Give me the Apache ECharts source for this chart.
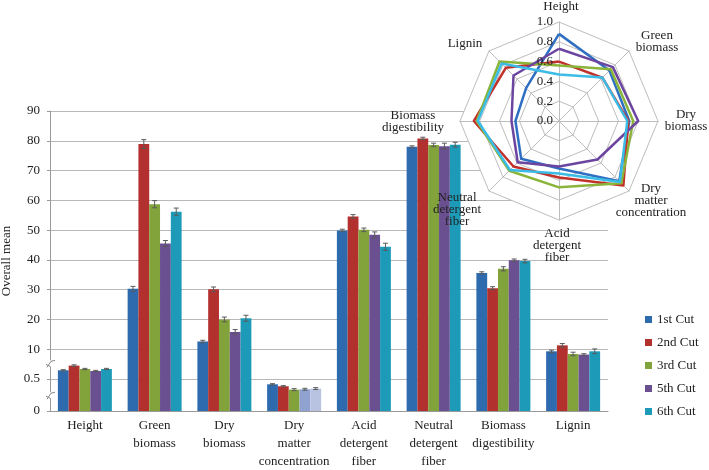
<!DOCTYPE html>
<html><head><meta charset="utf-8">
<script src="https://cdn.jsdelivr.net/npm/echarts@6/dist/echarts.min.js"></script>
<style>html,body{margin:0;padding:0;background:#fff}#c{width:709px;height:470px}</style>
</head><body><div id="c"></div>
<script>
// ---------- data ----------
const categories = ['Height','Green\nbiomass','Dry\nbiomass','Dry\nmatter\nconcentration','Acid\ndetergent\nfiber','Neutral\ndetergent\nfiber','Biomass\ndigestibility','Lignin'];
const cutNames = ['1st Cut','2nd Cut','3rd Cut','5th Cut','6th Cut'];
const cut1 = [0.636, 30.3, 12.6, 0.417, 49.9, 78.0, 35.6, 9.3];
const cut2 = [0.709, 78.9, 30.1, 0.386, 54.6, 80.8, 30.5, 11.3];
const cut3 = [0.656, 58.7, 20.0, 0.334, 50.1, 78.6, 37.0, 8.4];
const cut5 = [0.625, 45.5, 15.8, 0.339, 48.4, 78.2, 39.9, 8.2];
const cut6 = [0.656, 56.2, 20.4, 0.350, 44.4, 78.7, 39.6, 9.3];
const err1 = [0.010, 0.8, 0.4, 0.010, 0.4, 0.3, 0.4, 0.4];
const err2 = [0.012, 1.5, 0.8, 0.010, 0.6, 0.4, 0.5, 0.6];
const err3 = [0.010, 1.2, 0.8, 0.015, 0.6, 0.6, 0.7, 0.6];
const err5 = [0.010, 1.0, 0.8, 0.015, 1.0, 1.0, 0.4, 0.3];
const err6 = [0.010, 1.2, 1.0, 0.015, 1.2, 0.8, 0.6, 0.8];
const yTickLabels = ['0','0.5','10','20','30','40','50','60','70','80','90'];

const radarIndicators = ['Height','Green\nbiomass','Dry\nbiomass','Dry\nmatter\nconcentration','Acid\ndetergent\nfiber','Neutral\ndetergent\nfiber','Biomass\ndigestibility','Lignin'];
const radarTicks = ['0.0','0.2','0.4','0.6','0.8','1.0'];
// clockwise from Height
const radar1 = [0.88, 0.72, 0.71, 0.86, 0.48, 0.54, 0.44, 0.47];
const radar2 = [0.60, 0.62, 0.70, 0.92, 0.57, 0.65, 0.86, 0.76];
const radar3 = [0.56, 0.74, 0.75, 0.89, 0.67, 0.71, 0.83, 0.85];
const radar5 = [0.73, 0.77, 0.80, 0.55, 0.46, 0.59, 0.48, 0.65];
const radar6 = [0.47, 0.62, 0.69, 0.87, 0.53, 0.70, 0.82, 0.82];

// ---------- styles ----------
const FONT = '"Liberation Serif","Times New Roman",serif';
const TXT = '#222';
const barColors = ['#2E6AAE','#B2302D','#82A33C','#6A4F91','#1C9AB8'];
const radarColors = ['#2F6FC2','#C2302A','#8AB43A','#6C45A0','#3BBCE6'];
const dmcOverride = {3: '#8FA2D0', 4: '#B8C3E2'}; // series idx -> colour in DMC group
const SEG = 1.075;           // broken axis: 0.5 and 10 tick positions
function toAxis(v){ return v < 1 ? v / 0.5 * SEG : SEG + v / 10; }
const tickValues = yTickLabels.map(t => toAxis(parseFloat(t)));
const yMax = tickValues[tickValues.length - 1];
const GAP = 0.226;

const cuts = [cut1, cut2, cut3, cut5, cut6];
const errs = [err1, err2, err3, err5, err6];
const radars = [radar1, radar2, radar3, radar5, radar6];

const barSeries = cuts.map((vals, si) => ({
  name: cutNames[si], type: 'bar', barGap: '0%', barCategoryGap: (GAP*100)+'%',
  itemStyle: {color: barColors[si]},
  z: 2,
  data: vals.map((v, ci) => {
    const d = {value: toAxis(v)};
    if (ci === 3 && dmcOverride[si]) d.itemStyle = {color: dmcOverride[si]};
    return d;
  })
}));

function errRender(si){
  return function(params, api){
    const cat = api.value(0);
    const lo = api.coord([cat, api.value(1)]);
    const hi = api.coord([cat, api.value(2)]);
    const cw = api.size([1, 0])[0];
    const bw = cw * (1 - GAP) / 5;
    const x = lo[0] + (si - 2) * bw;
    const c = 2.5, st = {stroke: '#5a5a5a', lineWidth: 1};
    return {type: 'group', children: [
      {type: 'line', shape: {x1: x, y1: lo[1], x2: x, y2: hi[1]}, style: st},
      {type: 'line', shape: {x1: x - c, y1: lo[1], x2: x + c, y2: lo[1]}, style: st},
      {type: 'line', shape: {x1: x - c, y1: hi[1], x2: x + c, y2: hi[1]}, style: st}
    ]};
  };
}
const errSeries = cuts.map((vals, si) => ({
  type: 'custom', name: 'err' + si, renderItem: errRender(si), z: 3, silent: true,
  encode: {x: 0, y: [1, 2]},
  data: vals.map((v, ci) => [ci, toAxis(v - errs[si][ci]), toAxis(v + errs[si][ci])])
}));

// radar: ECharts goes counter-clockwise, so reorder
const order = [0, 7, 6, 5, 4, 3, 2, 1];
const RC = [559, 121], RR = 99;

const radarNamePos = [
  [561, 7], [657, 42], [686, 121], [651, 201], [557, 246], [457, 210], [413, 122], [465, 44]
];
const graphics = [];
radarIndicators.forEach((n, i) => graphics.push({
  type: 'text', x: radarNamePos[i][0], y: radarNamePos[i][1], z: 20,
  style: {text: n, font: '13px ' + FONT, fill: TXT, align: 'center', verticalAlign: 'middle', lineHeight: 12}
}));
radarTicks.forEach((t, i) => graphics.push({
  type: 'text', x: RC[0] - 6, y: RC[1] - RR * parseFloat(t), z: 20,
  style: {text: t, font: '13px ' + FONT, fill: TXT, align: 'right', verticalAlign: 'middle'}
}));

const chart = echarts.init(document.getElementById('c'), null, {renderer: 'canvas'});
chart.setOption({
  animation: false,
  backgroundColor: '#fff',
  textStyle: {fontFamily: FONT},
  grid: {left: 50, right: 101, top: 111, bottom: 59, containLabel: false, outerBoundsMode: 'none'},
  legend: {
    data: cutNames, orient: 'vertical', left: 640, top: 308, itemGap: 10,
    itemWidth: 7, itemHeight: 7, icon: 'rect',
    textStyle: {fontSize: 13, color: TXT, fontFamily: FONT}
  },
  xAxis: {
    type: 'category', data: categories,
    axisLine: {lineStyle: {color: '#9a9a9a'}},
    axisTick: {show: false},
    axisLabel: {interval: 0, fontSize: 13, lineHeight: 18, color: TXT, margin: 6, fontFamily: FONT}
  },
  yAxis: {
    type: 'value', min: 0, max: yMax,
    name: 'Overall mean', nameLocation: 'middle', nameGap: 36,
    nameTextStyle: {fontSize: 13, color: TXT, fontFamily: FONT},
    axisLine: {show: true, lineStyle: {color: '#9a9a9a'}},
    axisTick: {show: true, length: 3, customValues: tickValues, lineStyle: {color: '#9a9a9a'}},
    axisLabel: {customValues: tickValues, fontSize: 13, color: TXT, margin: 10, fontFamily: FONT,
      formatter: function(v){
        let best = 0;
        tickValues.forEach((t, i) => { if (Math.abs(t - v) < Math.abs(tickValues[best] - v)) best = i; });
        return yTickLabels[best];
      }},
    splitLine: {show: true, lineStyle: {color: '#b9b9b9'}}
  },
  radar: {
    center: RC, radius: RR, startAngle: 90, shape: 'polygon', splitNumber: 5, z: 1,
    indicator: order.map(i => ({name: radarIndicators[i], min: 0, max: 1})),
    axisName: {show: false},
    axisLine: {lineStyle: {color: '#bdbdbd'}},
    splitLine: {lineStyle: {color: '#bdbdbd'}},
    splitArea: {show: true, areaStyle: {color: ['#ffffff']}}
  },
  series: barSeries.concat(errSeries).concat([{
    type: 'radar', z: 4, symbol: 'none', silent: true,
    data: radars.map((r, si) => ({
      name: cutNames[si], value: order.map(i => r[i]),
      lineStyle: {color: radarColors[si], width: 2.5},
      itemStyle: {color: radarColors[si]}
    }))
  }]),
  graphic: graphics
});

// axis break marks
const gx = chart.convertToPixel({gridIndex: 0}, [0, 0]) ? 50 : 50;
const breaks = [1.6, 0.53];
const bg = [];
breaks.forEach((b, k) => {
  const y = chart.convertToPixel({yAxisIndex: 0}, b);
  bg.push({type: 'rect', id: 'bw' + k, z: 30, shape: {x: gx - 1.5, y: y - 3, width: 3, height: 6}, style: {fill: '#fff'}});
  bg.push({type: 'polyline', id: 'bl' + k, z: 31, shape: {points: [[gx - 3, y + 4], [gx + 1, y - 2], [gx + 5, y - 3]]}, style: {stroke: '#888', lineWidth: 1, fill: null}});
  bg.push({type: 'polyline', id: 'bm' + k, z: 31, shape: {points: [[gx - 4, y + 1], [gx, y + 3]]}, style: {stroke: '#888', lineWidth: 1, fill: null}});
});
chart.setOption({graphic: graphics.concat(bg)});
</script>
</body></html>
